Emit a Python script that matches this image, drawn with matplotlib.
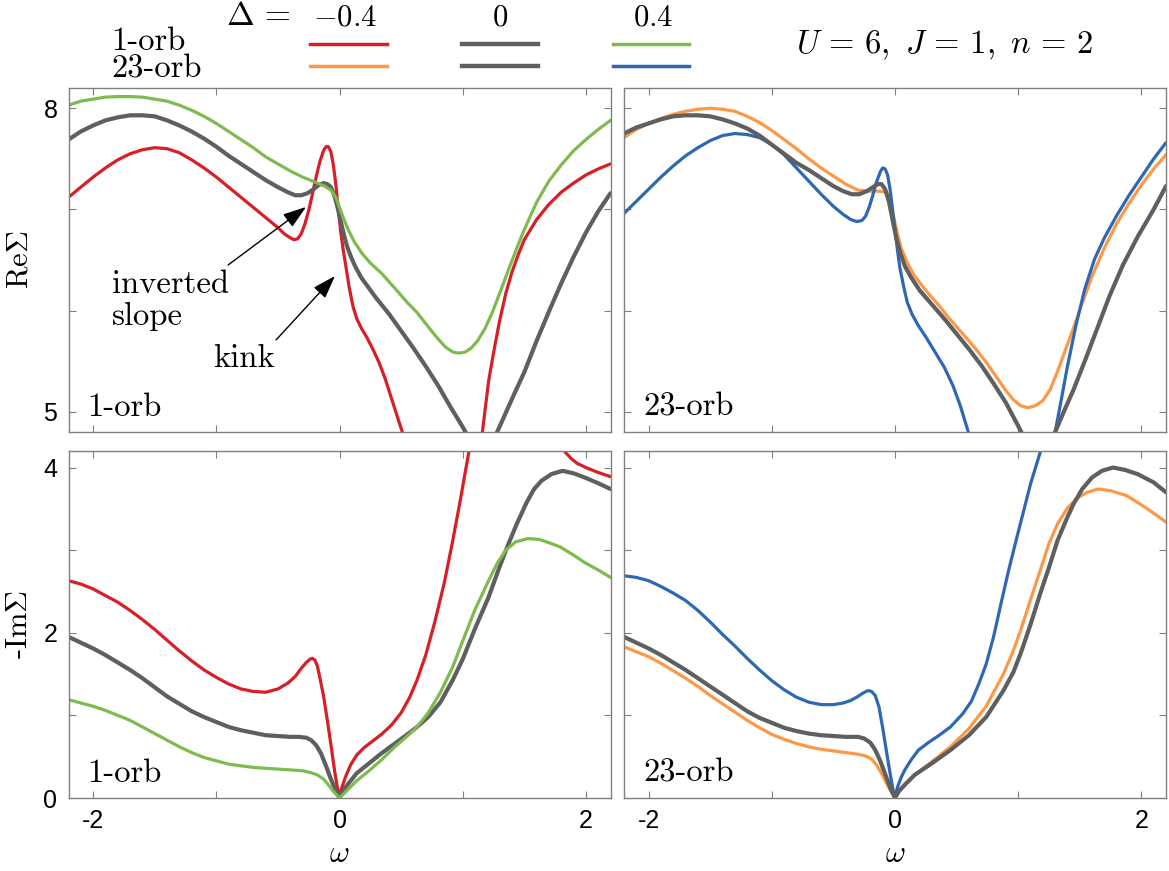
import matplotlib
matplotlib.use("Agg")
import matplotlib.pyplot as plt
from matplotlib.lines import Line2D
from matplotlib import rcParams

rcParams['font.family'] = 'sans-serif'
rcParams['font.sans-serif'] = ['Liberation Sans', 'DejaVu Sans']
rcParams['font.size'] = 18
rcParams['mathtext.fontset'] = 'cm'
rcParams['axes.unicode_minus'] = False

# --- colours ---
c_red = '#d81e26'
c_orange = '#fd9846'
c_green = '#7dbb4f'
c_blue = '#2e68b4'
c_gray = '#5f5f5f'

# --- Re Sigma, 1-orb ---
re1_red_x = [-2.2, -2.1, -2.0, -1.9, -1.8, -1.7, -1.6, -1.5, -1.4, -1.3, -1.2, -1.1, -1.0, -0.9, -0.8, -0.7,
             -0.6, -0.5, -0.45, -0.40, -0.37, -0.34, -0.31, -0.28, -0.25, -0.22, -0.19, -0.16, -0.13, -0.11,
             -0.09, -0.07, -0.05, -0.03, -0.01, 0.01, 0.03, 0.05, 0.08, 0.11, 0.14, 0.18, 0.22, 0.27, 0.32,
             0.37, 0.42, 0.47, 0.51, 0.6, 0.8, 1.0, 1.10, 1.16, 1.21, 1.25, 1.30, 1.35, 1.40, 1.45, 1.50,
             1.6, 1.7, 1.8, 1.9, 2.0, 2.1, 2.2]
re1_red_y = [7.12, 7.22, 7.32, 7.41, 7.49, 7.55, 7.59, 7.61, 7.60, 7.56, 7.49, 7.41, 7.32, 7.22, 7.12, 7.02,
             6.92, 6.82, 6.76, 6.72, 6.70, 6.71, 6.76, 6.86, 6.99, 7.15, 7.32, 7.47, 7.58, 7.62,
             7.62, 7.57, 7.44, 7.25, 7.00, 6.78, 6.60, 6.45, 6.22, 6.04, 5.92, 5.82, 5.74, 5.62, 5.49,
             5.33, 5.14, 4.95, 4.80, 4.50, 4.20, 4.20, 4.50, 4.80, 5.30, 5.58, 5.90, 6.17, 6.38, 6.55, 6.70,
             6.90, 7.05, 7.17, 7.26, 7.34, 7.40, 7.45]

re1_gray_x = [-2.2, -2.1, -2.0, -1.9, -1.8, -1.7, -1.6, -1.5, -1.4, -1.3, -1.2, -1.1, -1.0, -0.9, -0.8, -0.7,
              -0.6, -0.5, -0.42, -0.36, -0.31, -0.26, -0.21, -0.17, -0.13, -0.10, -0.07, -0.04, -0.02, 0.0,
              0.02, 0.04, 0.06, 0.09, 0.13, 0.18, 0.24, 0.3, 0.4, 0.5, 0.6, 0.7, 0.8, 0.9, 1.0, 1.05, 1.15,
              1.22, 1.28, 1.35, 1.42, 1.50, 1.6, 1.7, 1.8, 1.9, 2.0, 2.1, 2.2]
re1_gray_y = [7.69, 7.77, 7.83, 7.88, 7.91, 7.93, 7.93, 7.92, 7.88, 7.83, 7.77, 7.70, 7.62, 7.53, 7.45, 7.37,
              7.29, 7.22, 7.17, 7.14, 7.14, 7.16, 7.20, 7.24, 7.26, 7.25, 7.22, 7.13, 7.04, 6.94,
              6.83, 6.73, 6.64, 6.54, 6.43, 6.32, 6.22, 6.12, 5.97, 5.80, 5.63, 5.45, 5.26, 5.05, 4.85, 4.74, 4.62,
              4.65, 4.80, 4.99, 5.18, 5.39, 5.70, 5.99, 6.27, 6.53, 6.77, 6.98, 7.16]

re1_green_x = [-2.2, -2.1, -2.0, -1.9, -1.8, -1.7, -1.6, -1.5, -1.4, -1.3, -1.2, -1.1, -1.0, -0.9, -0.8, -0.7,
               -0.6, -0.5, -0.4, -0.3, -0.2, -0.12, -0.07, -0.03, 0.0, 0.03, 0.07, 0.12, 0.18, 0.25, 0.34,
               0.45, 0.55, 0.63, 0.72, 0.80, 0.86, 0.92, 0.97, 1.02, 1.07, 1.12, 1.18, 1.24, 1.30, 1.38, 1.45,
               1.50, 1.6, 1.7, 1.8, 1.9, 2.0, 2.1, 2.2]
re1_green_y = [8.03, 8.07, 8.09, 8.11, 8.115, 8.115, 8.11, 8.09, 8.07, 8.03, 7.98, 7.92, 7.85, 7.77, 7.69, 7.61,
               7.52, 7.45, 7.38, 7.32, 7.27, 7.23, 7.19, 7.12, 7.02, 6.92, 6.80, 6.68, 6.57, 6.47, 6.37,
               6.22, 6.08, 5.98, 5.84, 5.72, 5.64, 5.59, 5.58, 5.59, 5.63, 5.70, 5.82, 5.98, 6.17, 6.43, 6.65,
               6.80, 7.07, 7.28, 7.44, 7.58, 7.69, 7.79, 7.88]

# --- Re Sigma, 23-orb ---
re23_orange_x = [-2.2, -2.1, -2.0, -1.9, -1.8, -1.7, -1.6, -1.5, -1.4, -1.3, -1.2, -1.1, -1.0, -0.9, -0.8, -0.7,
                 -0.6, -0.5, -0.4, -0.3, -0.2, -0.12, -0.07, -0.04, -0.01, 0.02, 0.05, 0.10, 0.16, 0.25, 0.35,
                 0.45, 0.55, 0.65, 0.74, 0.82, 0.9, 0.96, 1.02, 1.08, 1.14, 1.20, 1.26, 1.32, 1.38, 1.45, 1.51,
                 1.6, 1.7, 1.8, 1.9, 2.0, 2.1, 2.2]
re23_orange_y = [7.71, 7.79, 7.85, 7.90, 7.94, 7.97, 7.99, 8.00, 7.99, 7.97, 7.92, 7.86, 7.78, 7.69, 7.60, 7.50,
                 7.41, 7.33, 7.25, 7.19, 7.18, 7.18, 7.17, 7.10, 6.92, 6.76, 6.62, 6.47, 6.34, 6.20, 6.06,
                 5.91, 5.77, 5.63, 5.49, 5.35, 5.21, 5.12, 5.06, 5.04, 5.06, 5.11, 5.22, 5.40, 5.60, 5.83, 6.04,
                 6.34, 6.62, 6.86, 7.06, 7.24, 7.40, 7.54]

re23_gray_x = [-2.2, -2.1, -2.0, -1.9, -1.8, -1.7, -1.6, -1.5, -1.4, -1.3, -1.2, -1.1, -1.0, -0.9, -0.8, -0.7,
               -0.6, -0.5, -0.42, -0.35, -0.29, -0.23, -0.18, -0.14, -0.11, -0.08, -0.05, -0.02, 0.01, 0.04,
               0.08, 0.13, 0.2, 0.3, 0.4, 0.5, 0.6, 0.7, 0.8, 0.9, 1.0, 1.05, 1.12, 1.2, 1.26, 1.30, 1.37,
               1.45, 1.55, 1.65, 1.74, 1.85, 1.97, 2.1, 2.2]
re23_gray_y = [7.75, 7.81, 7.85, 7.89, 7.92, 7.93, 7.93, 7.92, 7.89, 7.85, 7.80, 7.73, 7.64, 7.55, 7.46, 7.39,
               7.31, 7.23, 7.18, 7.15, 7.15, 7.18, 7.22, 7.25, 7.25, 7.20, 7.08, 6.90, 6.72, 6.58,
               6.44, 6.33, 6.20, 6.06, 5.92, 5.77, 5.62, 5.46, 5.28, 5.09, 4.86, 4.74, 4.64, 4.62, 4.68, 4.80, 5.00,
               5.22, 5.53, 5.85, 6.14, 6.45, 6.73, 7.00, 7.23]

re23_blue_x = [-2.2, -2.1, -2.0, -1.9, -1.8, -1.7, -1.6, -1.5, -1.4, -1.3, -1.2, -1.1, -1.0, -0.9, -0.8, -0.7,
               -0.6, -0.5, -0.42, -0.36, -0.31, -0.27, -0.24, -0.21, -0.18, -0.15, -0.12, -0.10, -0.08, -0.06,
               -0.04, -0.02, 0.0, 0.02, 0.04, 0.07, 0.10, 0.14, 0.19, 0.25, 0.33, 0.40, 0.47, 0.53, 0.59, 0.7,
               1.0, 1.2, 1.30, 1.35, 1.40, 1.47, 1.54, 1.62, 1.70, 1.8, 1.9, 2.0, 2.1, 2.2]
re23_blue_y = [6.96, 7.08, 7.20, 7.32, 7.43, 7.53, 7.61, 7.68, 7.73, 7.75, 7.74, 7.71, 7.64, 7.54, 7.41, 7.28,
               7.15, 7.03, 6.95, 6.90, 6.88, 6.89, 6.93, 7.02, 7.14, 7.27, 7.37, 7.41, 7.40, 7.34,
               7.20, 7.00, 6.80, 6.60, 6.42, 6.24, 6.08, 5.96, 5.85, 5.74, 5.58, 5.44, 5.26, 5.06, 4.82, 4.40,
               4.00, 4.30, 4.80, 5.12, 5.45, 5.86, 6.21, 6.51, 6.72, 6.94, 7.14, 7.32, 7.50, 7.66]

# --- -Im Sigma, 1-orb ---
im1_red_x = [-2.2, -2.1, -2.0, -1.9, -1.8, -1.7, -1.6, -1.5, -1.4, -1.3, -1.2, -1.1, -1.0, -0.9, -0.8, -0.7,
             -0.6, -0.5, -0.42, -0.36, -0.31, -0.27, -0.24, -0.22, -0.20, -0.18, -0.16, -0.13, -0.10, -0.07,
             -0.04, -0.02, 0.0, 0.02, 0.05, 0.09, 0.14, 0.2, 0.27, 0.34, 0.42, 0.50, 0.57, 0.63, 0.70, 0.77,
             0.85, 0.92, 0.98, 1.05, 1.12, 1.2, 1.5, 1.7, 1.83, 1.88, 1.93, 2.0, 2.1, 2.2]
im1_red_y = [2.63, 2.59, 2.53, 2.45, 2.37, 2.27, 2.16, 2.04, 1.91, 1.78, 1.66, 1.55, 1.46, 1.38, 1.32, 1.29,
             1.28, 1.32, 1.39, 1.47, 1.57, 1.64, 1.68, 1.69, 1.67, 1.60, 1.46, 1.24, 0.95, 0.65,
             0.33, 0.15, 0.0, 0.13, 0.26, 0.40, 0.52, 0.61, 0.69, 0.77, 0.88, 1.03, 1.22, 1.43, 1.73, 2.11,
             2.60, 3.12, 3.60, 4.19, 4.60, 4.90, 5.20, 4.60, 4.19, 4.11, 4.05, 4.00, 3.94, 3.89]

im1_gray_x = [-2.2, -2.1, -2.0, -1.9, -1.8, -1.7, -1.6, -1.5, -1.4, -1.3, -1.2, -1.1, -1.0, -0.9, -0.8, -0.7,
              -0.6, -0.5, -0.4, -0.33, -0.27, -0.23, -0.19, -0.15, -0.11, -0.07, -0.03, 0.0, 0.03, 0.07, 0.14,
              0.24, 0.34, 0.45, 0.55, 0.63, 0.72, 0.82, 0.92, 1.0, 1.1, 1.21, 1.3, 1.37, 1.44, 1.52, 1.58,
              1.64, 1.72, 1.81, 1.9, 1.99, 2.1, 2.2]
im1_gray_y = [1.95, 1.88, 1.81, 1.73, 1.64, 1.55, 1.45, 1.34, 1.23, 1.14, 1.05, 0.98, 0.92, 0.86, 0.82, 0.79,
              0.76, 0.75, 0.74, 0.74, 0.73, 0.70, 0.64, 0.54, 0.39, 0.23, 0.09, 0.0, 0.09, 0.17, 0.30,
              0.42, 0.54, 0.66, 0.77, 0.86, 0.98, 1.16, 1.43, 1.68, 2.05, 2.43, 2.80, 3.07, 3.32, 3.58, 3.74,
              3.84, 3.92, 3.96, 3.93, 3.88, 3.81, 3.74]

im1_green_x = [-2.2, -2.1, -2.0, -1.9, -1.8, -1.7, -1.6, -1.5, -1.4, -1.3, -1.2, -1.1, -1.0, -0.9, -0.8, -0.7,
               -0.6, -0.5, -0.4, -0.3, -0.24, -0.18, -0.13, -0.09, -0.05, 0.0, 0.04, 0.08, 0.14, 0.24, 0.34,
               0.45, 0.55, 0.63, 0.72, 0.82, 0.92, 1.0, 1.1, 1.21, 1.28, 1.35, 1.43, 1.53, 1.62, 1.70, 1.79,
               1.9, 1.99, 2.1, 2.2]
im1_green_y = [1.19, 1.15, 1.11, 1.06, 1.00, 0.94, 0.86, 0.78, 0.70, 0.62, 0.55, 0.49, 0.45, 0.41, 0.39, 0.37,
               0.36, 0.35, 0.34, 0.33, 0.31, 0.28, 0.23, 0.16, 0.08, 0.0, 0.06, 0.12, 0.21, 0.33, 0.46,
               0.62, 0.75, 0.86, 1.03, 1.28, 1.59, 1.90, 2.28, 2.63, 2.84, 3.00, 3.10, 3.14, 3.13, 3.09, 3.04,
               2.94, 2.85, 2.76, 2.67]

# --- -Im Sigma, 23-orb ---
im23_blue_x = [-2.2, -2.1, -2.0, -1.9, -1.8, -1.7, -1.6, -1.5, -1.4, -1.3, -1.2, -1.1, -1.0, -0.9, -0.8, -0.7,
               -0.6, -0.5, -0.42, -0.36, -0.30, -0.26, -0.22, -0.19, -0.16, -0.13, -0.10, -0.07, -0.04, -0.02,
               0.0, 0.02, 0.05, 0.08, 0.13, 0.19, 0.27, 0.35, 0.45, 0.55, 0.62, 0.68, 0.74, 0.80, 0.86, 0.92,
               0.98, 1.04, 1.10, 1.18, 1.24]
im23_blue_y = [2.69, 2.67, 2.63, 2.56, 2.48, 2.39, 2.27, 2.13, 1.98, 1.84, 1.69, 1.55, 1.42, 1.31, 1.22, 1.16,
               1.13, 1.13, 1.15, 1.18, 1.23, 1.27, 1.30, 1.29, 1.24, 1.10, 0.85, 0.57, 0.30, 0.13,
               0.0, 0.13, 0.25, 0.34, 0.46, 0.58, 0.67, 0.75, 0.86, 1.02, 1.17, 1.38, 1.62, 1.95, 2.35, 2.74,
               3.10, 3.45, 3.80, 4.19, 4.50]

im23_orange_x = [-2.2, -2.1, -2.0, -1.9, -1.8, -1.7, -1.6, -1.5, -1.4, -1.3, -1.2, -1.1, -1.0, -0.9, -0.8, -0.7,
                 -0.6, -0.5, -0.4, -0.3, -0.24, -0.19, -0.15, -0.11, -0.07, -0.03, 0.0, 0.04, 0.09, 0.16, 0.3,
                 0.45, 0.6, 0.74, 0.88, 0.96, 1.02, 1.1, 1.18, 1.25, 1.32, 1.40, 1.48, 1.56, 1.65, 1.75, 1.88,
                 2.03, 2.2]
im23_orange_y = [1.83, 1.77, 1.71, 1.63, 1.54, 1.45, 1.35, 1.24, 1.14, 1.04, 0.94, 0.85, 0.77, 0.71, 0.66, 0.62,
                 0.59, 0.57, 0.55, 0.53, 0.51, 0.47, 0.40, 0.30, 0.18, 0.07, 0.0, 0.09, 0.18, 0.28, 0.44,
                 0.62, 0.84, 1.11, 1.50, 1.78, 2.03, 2.40, 2.76, 3.08, 3.32, 3.51, 3.63, 3.70, 3.74, 3.72, 3.66,
                 3.52, 3.34]

im23_gray_x = [-2.2, -2.1, -2.0, -1.9, -1.8, -1.7, -1.6, -1.5, -1.4, -1.3, -1.2, -1.1, -1.0, -0.9, -0.8, -0.7,
               -0.6, -0.5, -0.4, -0.3, -0.25, -0.2, -0.16, -0.12, -0.08, -0.04, 0.0, 0.03, 0.08, 0.16, 0.3,
               0.45, 0.6, 0.74, 0.88, 0.96, 1.02, 1.1, 1.18, 1.25, 1.32, 1.40, 1.45, 1.52, 1.60, 1.68, 1.77,
               1.87, 1.97, 2.1, 2.2]
im23_gray_y = [1.95, 1.88, 1.81, 1.73, 1.64, 1.55, 1.45, 1.35, 1.25, 1.15, 1.05, 0.97, 0.91, 0.85, 0.81, 0.78,
               0.76, 0.75, 0.74, 0.74, 0.72, 0.67, 0.58, 0.45, 0.29, 0.13, 0.0, 0.08, 0.16, 0.28, 0.42,
               0.58, 0.76, 0.98, 1.30, 1.52, 1.75, 2.10, 2.48, 2.79, 3.12, 3.40, 3.56, 3.74, 3.88, 3.96, 4.00,
               3.97, 3.92, 3.82, 3.70]

# --- figure ---
W, H = 1169, 871
fig = plt.figure(figsize=(W / 100, H / 100), dpi=100)


def px_axes(x0, y0, x1, y1):
    return fig.add_axes([x0 / W, 1 - y1 / H, (x1 - x0) / W, (y1 - y0) / H])


ax_re1 = px_axes(68.5, 88, 610.5, 432)
ax_re23 = px_axes(624, 88, 1166, 432)
ax_im1 = px_axes(68.5, 451, 610.5, 798)
ax_im23 = px_axes(624, 451, 1166, 798)

lw_c = 2.3
lw_g = 3.0
line_kw = dict(solid_joinstyle='round', solid_capstyle='round')

ax_re1.plot(re1_red_x, re1_red_y, color=c_red, lw=lw_c, **line_kw)
ax_re1.plot(re1_gray_x, re1_gray_y, color=c_gray, lw=lw_g, **line_kw)
ax_re1.plot(re1_green_x, re1_green_y, color=c_green, lw=lw_c, **line_kw)

ax_re23.plot(re23_orange_x, re23_orange_y, color=c_orange, lw=lw_c, **line_kw)
ax_re23.plot(re23_blue_x, re23_blue_y, color=c_blue, lw=lw_c, **line_kw)
ax_re23.plot(re23_gray_x, re23_gray_y, color=c_gray, lw=lw_g, **line_kw)

ax_im1.plot(im1_red_x, im1_red_y, color=c_red, lw=lw_c, **line_kw)
ax_im1.plot(im1_gray_x, im1_gray_y, color=c_gray, lw=lw_g, **line_kw)
ax_im1.plot(im1_green_x, im1_green_y, color=c_green, lw=lw_c, **line_kw)

ax_im23.plot(im23_blue_x, im23_blue_y, color=c_blue, lw=lw_c, **line_kw)
ax_im23.plot(im23_orange_x, im23_orange_y, color=c_orange, lw=lw_c, **line_kw)
ax_im23.plot(im23_gray_x, im23_gray_y, color=c_gray, lw=lw_g, **line_kw)

for ax in (ax_re1, ax_re23, ax_im1, ax_im23):
    ax.set_xlim(-2.2, 2.2)
    ax.set_xticks([-2, -1, 0, 1, 2])
    ax.set_xticklabels(['-2', '', '0', '', '2'])
    ax.tick_params(direction='in', length=5, width=0.8, color='#808080',
                   top=True, right=True, labelsize=18, pad=8)
    for s in ax.spines.values():
        s.set_color('#808080')
        s.set_linewidth(1.0)

for ax in (ax_re1, ax_re23):
    ax.set_ylim(4.8, 8.2)
    ax.set_yticks([5, 6, 7, 8])
    ax.set_yticklabels(['5', '', '', '8'])
    ax.tick_params(labelbottom=False)

for ax in (ax_im1, ax_im23):
    ax.set_ylim(0, 4.2)
    ax.set_yticks([0, 1, 2, 3, 4])
    ax.set_yticklabels(['0', '', '2', '', '4'])
    ax.set_xlabel(r'$\omega$', fontsize=22)
    ax.xaxis.set_label_coords(0.5, -0.185)
    ax.xaxis.label.set_va('baseline')

for ax in (ax_re23, ax_im23):
    ax.tick_params(labelleft=False)

ax_re1.set_ylabel(r'$\mathrm{Re}\Sigma$', fontsize=22)
ax_im1.set_ylabel(r'-$\mathrm{Im}\Sigma$', fontsize=22, family='cmr10')
for ax in (ax_re1, ax_im1):
    ax.yaxis.set_label_coords(-0.09, 0.5)
    ax.yaxis.label.set_va('center')

serif = dict(family='cmr10', fontsize=23.5)
for ax, name in ((ax_re1, '1-orb'), (ax_re23, '23-orb'), (ax_im1, '1-orb'), (ax_im23, '23-orb')):
    ax.text(0.035, 0.047, name, transform=ax.transAxes, va='baseline', **serif)

# annotations
arrow_kw = dict(arrowstyle='-|>,head_length=0.65,head_width=0.22', color='black',
                lw=1.0, shrinkA=0, shrinkB=0, mutation_scale=22)
ax_re1.text(-1.847, 6.174, 'inverted', va='baseline', **serif)
ax_re1.text(-1.847, 5.858, 'slope', va='baseline', **serif)
ax_re1.annotate('', xy=(-0.272, 7.024), xytext=(-0.905, 6.45), arrowprops=arrow_kw)
ax_re1.text(-1.022, 5.443, 'kink', va='baseline', **serif)
ax_re1.annotate('', xy=(-0.037, 6.342), xytext=(-0.515, 5.71), arrowprops=arrow_kw)

# header legend
fig.text(258 / W, 1 - 25 / H, r'$\Delta\,=$', fontsize=24, ha='center', va='baseline')
fig.text(345 / W, 1 - 25 / H, r'$-0.4$', fontsize=22, ha='center', va='baseline')
fig.text(500.5 / W, 1 - 25 / H, r'$0$', fontsize=22, ha='center', va='baseline')
fig.text(653 / W, 1 - 25 / H, r'$0.4$', fontsize=22, ha='center', va='baseline')
fig.text(111 / W, 1 - 50 / H, '1-orb', family='cmr10', fontsize=23.5, ha='left', va='baseline')
fig.text(111 / W, 1 - 78 / H, '23-orb', family='cmr10', fontsize=23.5, ha='left', va='baseline')
fig.text(944 / W, 1 - 53 / H, r'$U\,=\,6,\ J\,=\,1,\ n\,=\,2$', fontsize=23.5,
         ha='center', va='baseline')

legend_rows = [(44, [c_red, c_gray, c_green]), (65.7, [c_orange, c_gray, c_blue])]
col_x = [(310, 387), (462, 538), (613, 689)]
for y, colors in legend_rows:
    for (x0, x1), c in zip(col_x, colors):
        lw = lw_g if c == c_gray else lw_c
        fig.add_artist(Line2D([x0 / W, x1 / W], [1 - y / H, 1 - y / H], color=c, lw=lw + 0.2))

fig.savefig('out.png', dpi=100)
